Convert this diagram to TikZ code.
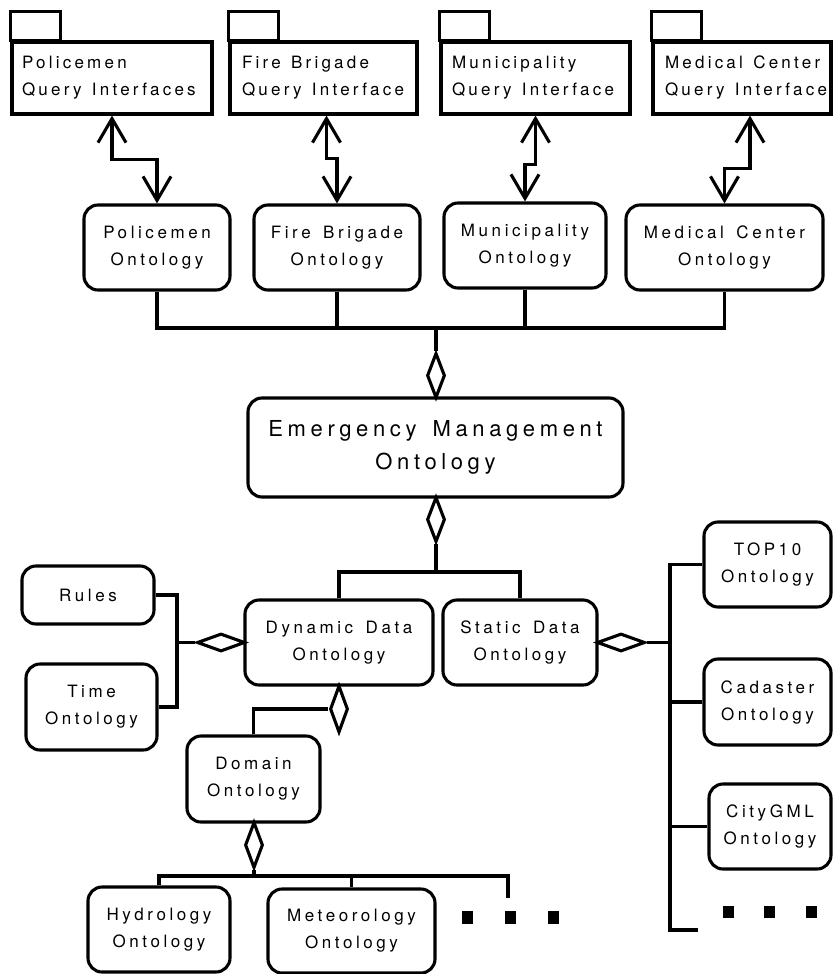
\documentclass[tikz,border=0pt]{standalone}
\usepackage{fontspec}
\setmainfont{TeX Gyre Heros}
\newfontfamily\labelfont[LetterSpace=21,WordSpace={1.5,1,0}]{TeX Gyre Heros}
\newfontfamily\pkgfont[LetterSpace=19,WordSpace={1.3,1,0}]{TeX Gyre Heros}
\usetikzlibrary{arrows.meta,shapes.geometric}

\tikzset{
  onto/.style={draw, rounded corners=14pt, align=center, inner sep=0pt,
    font=\labelfont\fontsize{17}{27}\selectfont},
  bigonto/.style={onto, font=\labelfont\fontsize{22}{33}\selectfont},
  pkg/.style={draw, inner sep=0pt, minimum height=72pt},
  pkgtext/.style={anchor=west, align=left, inner sep=0pt,
    font=\pkgfont\fontsize{17}{27}\selectfont},
  agg/.style={diamond, draw, fill=white, inner sep=0pt},
  vagg/.style={agg, minimum width=18pt, minimum height=46pt},
  hagg/.style={agg, minimum width=48pt, minimum height=18pt},
  query/.style={{Straight Barb[length=24pt,width=28pt]}-{Straight Barb[length=24pt,width=28pt]}},
  dotmark/.style={fill=black, minimum width=11pt, minimum height=13pt, inner sep=0pt},
}

\begin{document}
\begin{tikzpicture}[x=1pt, y=-1pt, line width=3.1pt]
\useasboundingbox (0,0) rectangle (833,974);

% query interface packages
\node[pkg, minimum width=200pt] (pq) at (112,78) {};
\node[pkg, minimum width=187pt] (fq) at (323.5,78) {};
\node[pkg, minimum width=189pt] (mq) at (535.5,78) {};
\node[pkg, minimum width=178pt] (mcq) at (742,78) {};
\foreach \p in {pq,fq,mq,mcq}
  \draw (\p.north west) rectangle ++(50,-29);
\node[pkgtext] (pqt) at ([xshift=10pt,yshift=0.5pt]pq.west) {Policemen\\Query Interfaces};
\node[pkgtext] (fqt) at ([xshift=12pt,yshift=0.5pt]fq.west) {Fire Brigade\\Query Interface};
\node[pkgtext] (mqt) at ([xshift=11pt,yshift=0.5pt]mq.west) {Municipality\\Query Interface};
\node[pkgtext] (mcqt) at ([xshift=12pt,yshift=0.5pt]mcq.west) {Medical Center\\Query Interface};

% user ontologies
\node[onto, minimum width=146pt, minimum height=85pt] (po) at (157,247.5) {Policemen\\Ontology};
\node[onto, minimum width=166pt, minimum height=85pt] (fo) at (337,247.5) {Fire Brigade\\Ontology};
\node[onto, minimum width=162pt, minimum height=85pt] (mo) at (525,245.5) {Municipality\\Ontology};
\node[onto, minimum width=197pt, minimum height=85pt] (mco) at (724.5,247.5) {Medical Center\\Ontology};

\draw[query] (pq.south) -- ++(0,44) -| (po.north);
\draw[query] ([xshift=3pt]fq.south) -- ++(0,43) -| (fo.north);
\draw[query] (mq.south) -- ++(0,49) -| (mo.north);
\draw[query] ([xshift=8pt]mcq.south) -- ++(0,53) -| (mco.north);

% core ontology
\node[bigonto, minimum width=375pt, minimum height=99pt] (emo) at (435.5,447.5) {Emergency Management\\Ontology};
\node[vagg, minimum height=45pt] (d1) at (436,375.5) {};
\coordinate (topbar) at (436,328);
\draw (po.south) -- (po.south |- topbar) -- (mco.south |- topbar) -- (mco.south);
\draw (fo.south) -- (fo.south |- topbar);
\draw (mo.south) -- (mo.south |- topbar);
\draw (topbar) -- (d1.north);

% dynamic and static data
\node[onto, minimum width=188pt, minimum height=85pt] (ddo) at (339,642.5) {Dynamic Data\\Ontology};
\node[onto, minimum width=154pt, minimum height=85pt] (sdo) at (520,642.5) {Static Data\\Ontology};
\node[vagg, minimum height=45pt] (d2) at (436,519.5) {};
\coordinate (midbar) at (436,572);
\draw (d2.south) -- (midbar);
\draw (ddo.north) -- (ddo.north |- midbar) -- (sdo.north |- midbar) -- (sdo.north);

% rules and time
\node[onto, minimum width=132pt, minimum height=58pt] (rules) at (88,595) {Rules};
\node[onto, minimum width=131pt, minimum height=86pt] (time) at (91.5,707) {Time\\Ontology};
\node[hagg] (d3) at (221,642.5) {};
\coordinate (rtbar) at (177,642.5);
\draw (rules.east) -| (rtbar |- time.east) -- (time.east);
\draw (rtbar) -- (d3.west);

% domain ontologies
\node[onto, minimum width=133pt, minimum height=86pt] (dom) at (253.5,779) {Domain\\Ontology};
\node[vagg, minimum height=47pt] (d4) at (339,709) {};
\draw (dom.north) |- (d4.west);
\node[vagg] (d5) at (254,845) {};
\node[onto, minimum width=142pt, minimum height=85pt] (hyd) at (159,929.5) {Hydrology\\Ontology};
\node[onto, minimum width=167pt, minimum height=84pt] (met) at (351.5,931) {Meteorology\\Ontology};
\coordinate (lowbar) at (254,876);
\coordinate (moreend) at (508,898);
\draw (d5.south) -- (lowbar);
\draw (hyd.north) |- (moreend |- lowbar) -- (moreend);
\draw (met.north) -- (met.north |- lowbar);
\node[dotmark] (m1) at (467,917) {};
\node[dotmark] (m2) at (510,917) {};
\node[dotmark] (m3) at (553,917) {};

% static data sources
\node[hagg] (d6) at (621,642.5) {};
\node[onto, minimum width=127pt, minimum height=85pt] (top) at (767.5,564.5) {TOP10\\Ontology};
\node[onto, minimum width=127pt, minimum height=86pt] (cad) at (767.5,702) {Cadaster\\Ontology};
\node[onto, minimum width=122pt, minimum height=85pt] (city) at (770,826.5) {CityGML\\Ontology};
\coordinate (rightbar) at (670,642.5);
\coordinate (rbend) at (698,930);
\draw (d6.east) -- (rightbar);
\draw (top.west) -| (rightbar |- rbend) -- (rbend);
\draw (cad.west) -- (cad.west -| rightbar);
\draw (city.west) -- (city.west -| rightbar);
\node[dotmark, minimum height=12pt] (r1) at (728,912) {};
\node[dotmark, minimum height=12pt] (r2) at (769,912) {};
\node[dotmark, minimum height=12pt] (r3) at (811,912) {};
\end{tikzpicture}
\end{document}
